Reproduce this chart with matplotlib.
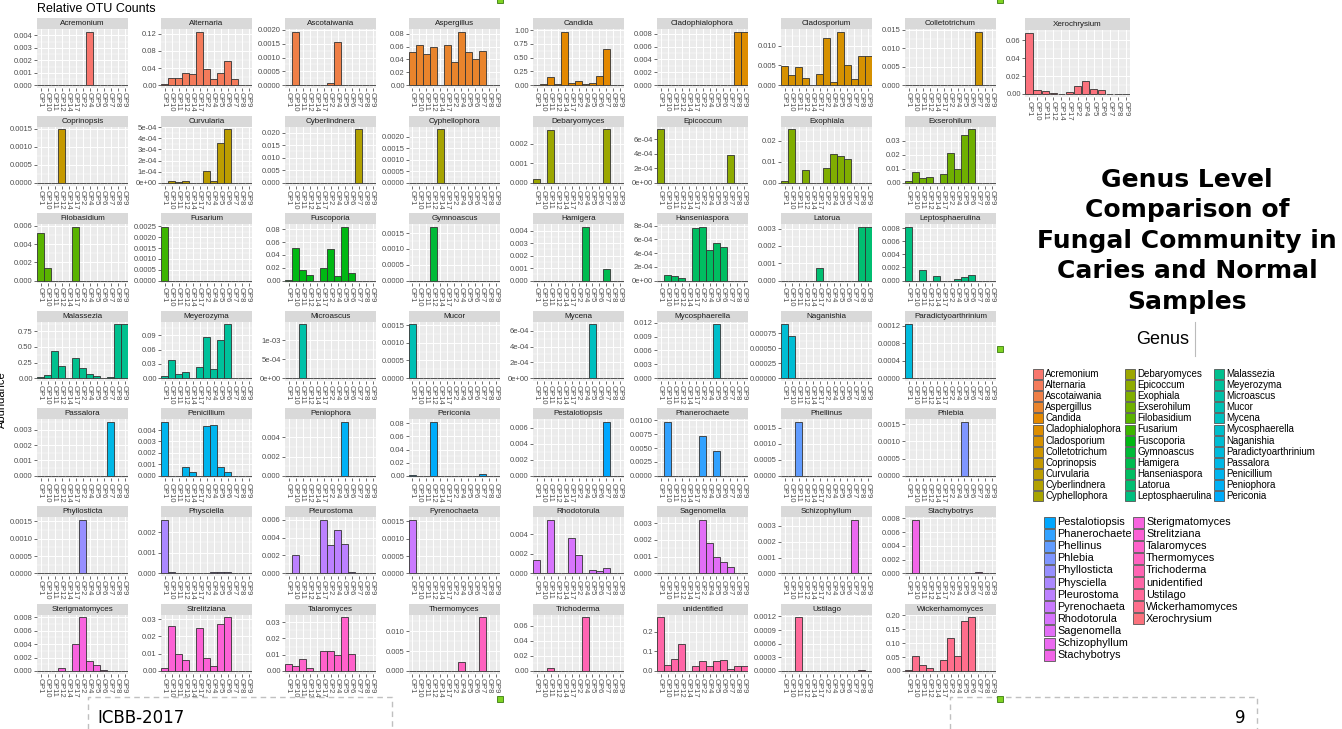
#Genus level relative OTU counts, one small bar panel per genus

import numpy as np
import matplotlib.pyplot as plt
from matplotlib.patches import Rectangle
from matplotlib.lines import Line2D

samples = ["OP1", "OP10", "OP11", "OP12", "OP14", "OP17", "OP2",
           "OP4", "OP5", "OP6", "OP7", "OP8", "OP9"]

#relative abundance per sample (same order as samples)
acremonium = [0, 0, 0, 0, 0, 0, 0, 0.0043, 0, 0, 0, 0, 0]
alternaria = [0.003, 0.016, 0.017, 0.029, 0.026, 0.125, 0.037, 0.015, 0.028, 0.057, 0.015, 0, 0]
ascotalwania = [0, 0.00193, 0, 0, 0, 0, 0.00007, 0.00157, 0, 0, 0, 0, 0]
aspergillus = [0.051, 0.062, 0.048, 0.060, 0.001, 0.062, 0.036, 0.083, 0.052, 0.040, 0.053, 0, 0]
candida = [0.005, 0.02, 0.15, 0.02, 0.97, 0.05, 0.07, 0.03, 0.04, 0.16, 0.65, 0, 0]
cladophialophora = [0, 0, 0, 0, 0, 0, 0, 0, 0, 0, 0, 0.0083, 0.0083]
cladosporium = [0.0048, 0.0025, 0.0045, 0.0018, 0, 0.0028, 0.0118, 0.0008, 0.0135, 0.0050, 0.0015, 0.0073, 0.0073]
colletotrichum = [0, 0, 0, 0, 0, 0, 0, 0, 0, 0, 0.0145, 0, 0]
coprinopsis = [0, 0, 0, 0.00148, 0, 0, 0, 0, 0, 0, 0, 0, 0]
curvularia = [0, 2e-5, 1e-5, 2e-5, 0, 0, 1.1e-4, 2e-5, 3.6e-4, 4.8e-4, 0, 0, 0]
cyberlindnera = [0, 0, 0, 0, 0, 0, 0, 0, 0, 0, 0.0213, 0, 0]
cyphellophora = [0, 0, 0, 0, 0.00232, 0, 0, 0, 0, 0, 0, 0, 0]
debaryomyces = [0.0002, 0, 0.0027, 0, 0, 0, 0, 0, 0, 0, 0.00275, 0, 0]
epicoccum = [0.00074, 0, 0, 0, 0, 0, 0, 0, 0, 0, 0.00038, 0, 0]
exophiala = [0.001, 0.0255, 0, 0.006, 0, 0, 0.0073, 0.0137, 0.0127, 0.0113, 0, 0, 0]
exserohilum = [0.0015, 0.0075, 0.0035, 0.0045, 0, 0.006, 0.0215, 0.0102, 0.034, 0.038, 0, 0, 0]
filobasidium = [0.0052, 0.0014, 0, 0, 0, 0.0059, 0, 0, 0, 0, 0, 0, 0]
fusarium = [0.00248, 0, 0, 0, 0, 0, 0, 0, 0, 0, 0, 0, 0]
fuscoporia = [0.001, 0.051, 0.016, 0.009, 0, 0.02, 0.05, 0.007, 0.084, 0.011, 0, 0, 0]
gymnoascus = [0, 0, 0, 0.0017, 0, 0, 0, 0, 0, 0, 0, 0, 0]
hamigera = [0, 0, 0, 0, 0, 0, 0, 0.0043, 0, 0, 0.0009, 0, 0]
hanseniaspora = [0, 8.5e-5, 7e-5, 4e-5, 0, 7.6e-4, 7.8e-4, 4.5e-4, 5.5e-4, 4.9e-4, 0, 0, 0]
latorua = [0, 0, 0, 0, 0, 0.0007, 0, 0, 0, 0, 0, 0.0031, 0.0031]
leptosphaerulina = [0.0082, 0, 0.0016, 0, 0.0007, 0, 0, 0.0002, 0.0006, 0.0009, 0, 0, 0]
malassezia = [0.01, 0.05, 0.43, 0.19, 0, 0.32, 0.16, 0.06, 0.03, 0, 0.01, 0.86, 0.86]
meyerozyma = [0.004, 0.038, 0.009, 0.012, 0, 0.023, 0.086, 0.02, 0.08, 0.113, 0, 0, 0]
microascus = [0, 0, 0.00142, 0, 0, 0, 0, 0, 0, 0, 0, 0, 0]
mucor = [0.00152, 0, 0, 0, 0, 0, 0, 0, 0, 0, 0, 0, 0]
mycena = [0, 0, 0, 0, 0, 0, 0, 0, 0.00068, 0, 0, 0, 0]
mycosphaerella = [0, 0, 0, 0, 0, 0, 0, 0, 0.0116, 0, 0, 0, 0]
naganishia = [0.0009, 0.0007, 0, 0, 0, 0, 0, 0, 0, 0, 0, 0, 0]
paradictyoarthrinium = [0.00123, 0, 0, 0, 0, 0, 0, 0, 0, 0, 0, 0, 0]
passalora = [0, 0, 0, 0, 0, 0, 0, 0, 0, 0, 0.0035, 0, 0]
penicillium = [0.0047, 0, 0, 0.0008, 0.00035, 0, 0.0044, 0.00445, 0.0008, 0.0003, 0, 0, 0]
peniophora = [0, 0, 0, 0, 0, 0, 0, 0, 0.0056, 0, 0, 0, 0]
periconia = [0.001, 0, 0, 0.082, 0, 0, 0, 0, 0, 0, 0.003, 0, 0]
pestalotiopsis = [0, 0, 0, 0, 0, 0, 0, 0, 0, 0, 0.0067, 0, 0]
phanerochaete = [0, 0.0097, 0, 0, 0, 0, 0.0071, 0, 0.0045, 0, 0, 0, 0]
phellinus = [0, 0, 0.00167, 0, 0, 0, 0, 0, 0, 0, 0, 0, 0]
phlebia = [0, 0, 0, 0, 0, 0, 0, 0, 0.00156, 0, 0, 0, 0]
phyllosticta = [0, 0, 0, 0, 0, 0, 0.00155, 0, 0, 0, 0, 0, 0]
physciella = [0.0026, 0.00005, 0, 0.00002, 0, 0, 0, 0.00004, 0.00004, 0.00004, 0, 0, 0]
pleurostoma = [0, 0.0021, 0, 0, 0, 0.006, 0.0032, 0.0048, 0.0033, 0.0002, 0, 0, 0]
pyrenochaeta = [0.00155, 0, 0, 0, 0, 0, 0, 0, 0, 0, 0, 0, 0]
rhodotorula = [0.0014, 0, 0.0055, 0, 0, 0.0036, 0.0019, 0, 0.0003, 0.00025, 0.0005, 0, 0]
sagenomella = [0, 0, 0, 0, 0, 0, 0.0032, 0.0018, 0.00095, 0.0007, 0.00035, 0, 0]
schizophyllum = [0, 0, 0, 0, 0, 0, 0, 0, 0, 0, 0.0034, 0, 0]
stachybotrys = [0, 0.0078, 0, 0, 0, 0, 0, 0, 0, 0, 0.0002, 0, 0]
sterigmatomyces = [0, 0, 0, 0.0004, 0, 0.004, 0.008, 0.0015, 0.0009, 0.0002, 0, 0, 0]
strelitziana = [0.0015, 0.026, 0.010, 0.0065, 0, 0.025, 0.0075, 0.003, 0.027, 0.031, 0, 0, 0]
talaromyces = [0.004, 0.003, 0.0075, 0.002, 0, 0.012, 0.0125, 0.0095, 0.033, 0.0105, 0, 0, 0]
thermomyces = [0, 0, 0, 0, 0, 0, 0, 0.0023, 0, 0, 0.0135, 0, 0]
trichoderma = [0, 0, 0.0045, 0, 0, 0, 0, 0.071, 0, 0, 0, 0, 0]
unidentified = [0.275, 0.03, 0.06, 0.14, 0.001, 0.025, 0.05, 0.025, 0.05, 0.057, 0.008, 0.025, 0.025]
ustilago = [0, 0, 0.00118, 0, 0, 0, 0, 0, 0, 0, 0, 0.00003, 0]
wickerhamomyces = [0.002, 0.052, 0.02, 0.011, 0, 0.04, 0.118, 0.055, 0.178, 0.193, 0, 0, 0]
xerochrysium = [0.068, 0.004, 0.003, 0.0015, 0, 0.0018, 0.009, 0.014, 0.006, 0.004, 0, 0, 0]

genera = ["Acremonium", "Alternaria", "Ascotaiwania", "Aspergillus", "Candida",
          "Cladophialophora", "Cladosporium", "Colletotrichum", "Coprinopsis",
          "Curvularia", "Cyberlindnera", "Cyphellophora", "Debaryomyces",
          "Epicoccum", "Exophiala", "Exserohilum", "Filobasidium", "Fusarium",
          "Fuscoporia", "Gymnoascus", "Hamigera", "Hanseniaspora", "Latorua",
          "Leptosphaerulina", "Malassezia", "Meyerozyma", "Microascus", "Mucor",
          "Mycena", "Mycosphaerella", "Naganishia", "Paradictyoarthrinium",
          "Passalora", "Penicillium", "Peniophora", "Periconia", "Pestalotiopsis",
          "Phanerochaete", "Phellinus", "Phlebia", "Phyllosticta", "Physciella",
          "Pleurostoma", "Pyrenochaeta", "Rhodotorula", "Sagenomella",
          "Schizophyllum", "Stachybotrys", "Sterigmatomyces", "Strelitziana",
          "Talaromyces", "Thermomyces", "Trichoderma", "unidentified", "Ustilago",
          "Wickerhamomyces", "Xerochrysium"]

abundance = [acremonium, alternaria, ascotalwania, aspergillus, candida,
             cladophialophora, cladosporium, colletotrichum, coprinopsis,
             curvularia, cyberlindnera, cyphellophora, debaryomyces, epicoccum,
             exophiala, exserohilum, filobasidium, fusarium, fuscoporia,
             gymnoascus, hamigera, hanseniaspora, latorua, leptosphaerulina,
             malassezia, meyerozyma, microascus, mucor, mycena, mycosphaerella,
             naganishia, paradictyoarthrinium, passalora, penicillium, peniophora,
             periconia, pestalotiopsis, phanerochaete, phellinus, phlebia,
             phyllosticta, physciella, pleurostoma, pyrenochaeta, rhodotorula,
             sagenomella, schizophyllum, stachybotrys, sterigmatomyces,
             strelitziana, talaromyces, thermomyces, trichoderma, unidentified,
             ustilago, wickerhamomyces, xerochrysium]

#y tick spacing shown in each panel
ysteps = [0.001, 0.04, 0.0005, 0.02, 0.25, 0.002, 0.005, 0.005, 0.0005, 1e-4,
          0.005, 0.0005, 0.001, 2e-4, 0.01, 0.01, 0.002, 0.0005, 0.02, 0.0005,
          0.001, 2e-4, 0.001, 0.002, 0.25, 0.03, 5e-4, 5e-4, 2e-4, 0.003,
          0.00025, 0.0004, 0.001, 0.001, 0.002, 0.02, 0.002, 0.0025, 0.0005,
          0.0005, 0.0005, 0.001, 0.002, 0.0005, 0.002, 0.001, 0.001, 0.002,
          0.002, 0.01, 0.01, 0.005, 0.02, 0.1, 0.0003, 0.05, 0.02]

W, H = 1342, 729


def fbox(x, y, w, h):
    return [x / W, 1 - (y + h) / H, w / W, h / H]


def hue_colors(n, c=100, l=65):
    #ggplot default hue palette (hcl -> sRGB)
    xn, yn, zn = 95.047, 100.0, 108.883
    un = 4 * xn / (xn + 15 * yn + 3 * zn)
    vn = 9 * yn / (xn + 15 * yn + 3 * zn)
    out = []
    for h in np.linspace(15, 375, n + 1)[:n]:
        u = c * np.cos(np.radians(h))
        v = c * np.sin(np.radians(h))
        Y = yn * ((l + 16) / 116) ** 3
        uu = u / (13 * l) + un
        vv = v / (13 * l) + vn
        X = 9 * Y * uu / (4 * vv)
        Z = -X / 3 - 5 * Y + 3 * Y / vv
        X, Y, Z = X / 100, Y / 100, Z / 100
        rgb = [3.240479 * X - 1.537150 * Y - 0.498535 * Z,
               -0.969256 * X + 1.875992 * Y + 0.041556 * Z,
               0.055648 * X - 0.204043 * Y + 1.057311 * Z]
        rgb = [1.055 * k ** (1 / 2.4) - 0.055 if k > 0.0031308 else 12.92 * k for k in rgb]
        out.append(tuple(min(1, max(0, k)) for k in rgb))
    return out


def tick_text(ticks):
    #R style: fixed unless scientific is shorter
    big = max(abs(t) for t in ticks) or 1
    for d in range(10):
        if all(abs(round(t, d) - t) < big * 1e-8 for t in ticks):
            break
    fixed = [f"{t:.{d}f}" for t in ticks]
    for m in range(10):
        sci = [f"{t:.{m}e}" for t in ticks]
        if all(abs(float(s) - t) < big * 1e-8 for s, t in zip(sci, ticks)):
            break
    if max(map(len, fixed)) > max(map(len, sci)):
        return sci
    return fixed


plt.rcParams['font.family'] = ['Liberation Sans', 'DejaVu Sans']
colors = hue_colors(len(genera))

fig = plt.figure(figsize=(W / 100, H / 100), dpi=100)

fig.text(37 / W, 1 - 9 / H, "Relative OTU Counts", fontsize=9, va='center', ha='left')
fig.text(2 / W, 1 - 400 / H, "Abundance", fontsize=8, rotation=90, va='center', ha='center')

for g, name in enumerate(genera):
    if name == "Xerochrysium":
        x0, y0, pw, sh, ph = 1025, 18, 105, 12, 67
    else:
        r, c = divmod(g, 8)
        x0, y0, pw, sh, ph = 37 + 124 * c, 18 + 97.6 * r, 91, 11, 59

    st = fig.add_axes(fbox(x0, y0, pw, sh))
    st.set_facecolor('#D9D9D9')
    st.set_xticks([])
    st.set_yticks([])
    for s in st.spines.values():
        s.set_visible(False)
    st.text(0.5, 0.5, name, fontsize=5.8, color='#1A1A1A', ha='center', va='center',
            transform=st.transAxes)

    ax = fig.add_axes(fbox(x0, y0 + sh, pw, ph))
    ax.set_facecolor('#EBEBEB')
    vals = abundance[g]
    top = max(vals) * 1.05
    ax.set_xlim(-0.5, len(samples) - 0.5)
    ax.set_ylim(-0.05 * max(vals), top)

    step = ysteps[g]
    n = int(np.floor(top / step + 1e-9))
    ticks = [step * k for k in range(n + 1)]
    minor = [step * (k + 0.5) for k in range(n + 1) if step * (k + 0.5) <= top]
    ax.set_yticks(ticks)
    ax.set_yticklabels(tick_text(ticks))
    ax.set_yticks(minor, minor=True)
    ax.set_xticks(range(len(samples)))
    ax.set_xticklabels(samples, rotation=270)

    ax.grid(which='major', color='white', lw=0.7)
    ax.grid(which='minor', axis='y', color='white', lw=0.35)
    ax.set_axisbelow(True)
    ax.tick_params(which='major', length=2, width=0.5, color='#333333',
                   labelsize=5.5, labelcolor='#4D4D4D', pad=1)
    ax.tick_params(which='minor', length=0)
    for s in ax.spines.values():
        s.set_visible(False)

    ax.bar(range(len(samples)), vals, width=0.9, color=colors[g],
           edgecolor='#333333', linewidth=0.6)

#right side title
title_lines = ["Genus Level", "Comparison of", "Fungal Community in",
               "Caries and Normal", "Samples"]
for k, line in enumerate(title_lines):
    fig.text(1187 / W, 1 - (180 + 30.5 * k) / H, line, fontsize=18, fontweight='bold',
             family='DejaVu Sans', ha='center', va='center')

#legend
fig.text(1163 / W, 1 - 340 / H, "Genus", fontsize=13, ha='center', va='center')
fig.lines.append(Line2D([1195 / W, 1195 / W], [1 - 322 / H, 1 - 356 / H],
                        transform=fig.transFigure, color='#BBBBBB', lw=0.8))
for k, name in enumerate(genera):
    if k < 36:
        col, row = divmod(k, 12)
        sx, cy, sz, fs = [1033, 1125, 1214][col], 374 + 11.1 * row, 10, 7
    else:
        col, row = divmod(k - 36, 12)
        sx, cy, sz, fs = [1044, 1133][col], 522 + 12.1 * row, 11, 7.8
    fig.patches.append(Rectangle((sx / W, 1 - (cy + sz / 2) / H), sz / W, sz / H,
                                 transform=fig.transFigure, facecolor=colors[k],
                                 edgecolor='#555555', lw=0.6))
    fig.text((sx + sz + 2) / W, 1 - cy / H, name, fontsize=fs, ha='left', va='center')

#slide footer
fig.text(97 / W, 1 - 718 / H, "ICBB-2017", fontsize=12, family='DejaVu Sans', va='center')
fig.text(1240 / W, 1 - 718 / H, "9", fontsize=12, family='DejaVu Sans', va='center', ha='center')
for xs, ys in [([88, 88, 392, 392], [729, 697, 697, 729]),
               ([950, 950, 1257, 1257], [729, 697, 697, 729])]:
    fig.lines.append(Line2D([x / W for x in xs], [1 - y / H for y in ys],
                            transform=fig.transFigure, color='#C0C0C0', lw=1,
                            linestyle=(0, (4, 3))))

#selection handles
for hx, hy in [(500, 0), (1000, 0), (1000, 349), (500, 699), (1000, 699)]:
    fig.patches.append(Rectangle(((hx - 3) / W, 1 - (hy + 3) / H), 6 / W, 6 / H,
                                 transform=fig.transFigure, facecolor='#7ED321',
                                 edgecolor='#3A7A10', lw=0.6, zorder=10))

plt.savefig("out.png", dpi=100)
